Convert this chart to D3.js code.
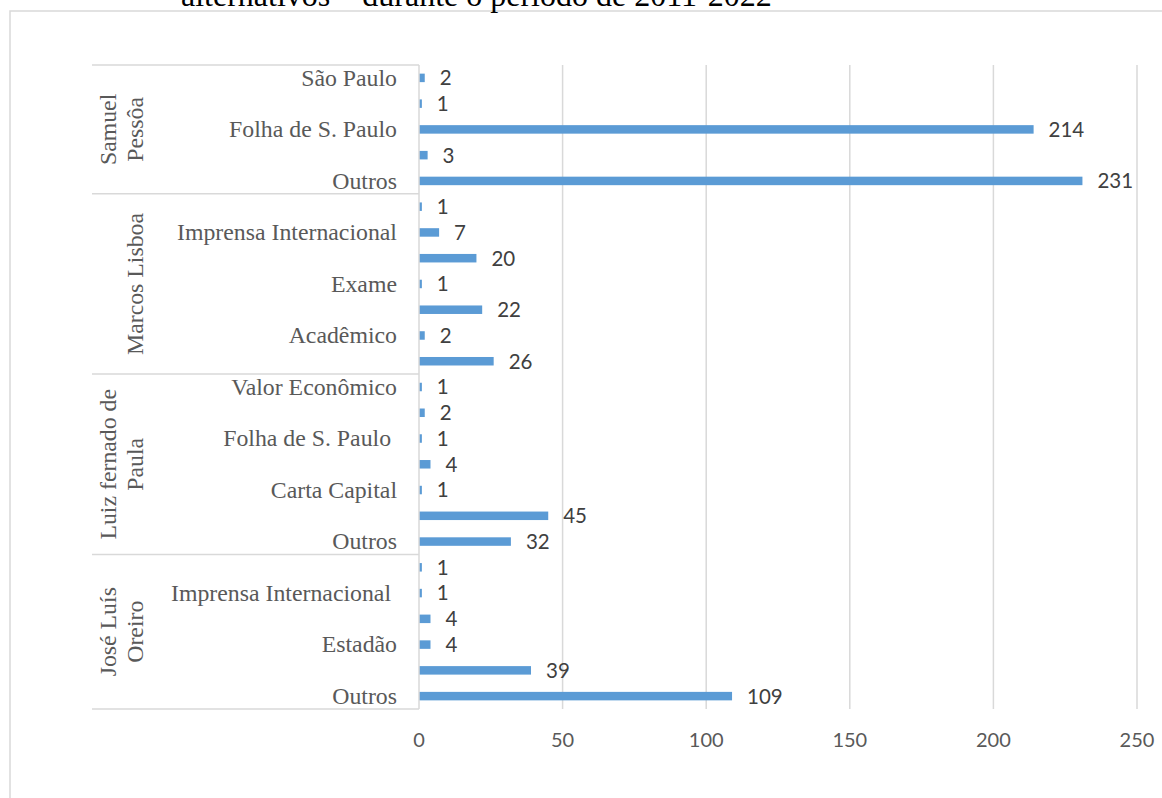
<!DOCTYPE html>
<html>
<head>
<meta charset="utf-8">
<script src="https://cdn.jsdelivr.net/npm/d3@7"></script>
<style>
  html, body { margin: 0; padding: 0; background: #fff; }
  svg { display: block; }
</style>
</head>
<body>
<svg id="chart" width="1162" height="798"></svg>
<script>
// ---- Data ----
const titleText = "alternativos – durante o período de 2011-2022";
const groups = [
  ["Samuel", "Pessôa"],
  ["Marcos Lisboa"],
  ["Luiz fernado de", "Paula"],
  ["José Luís", "Oreiro"]
];
const groupSizes = [5, 7, 7, 6];
// category labels (empty = label hidden in the original)
const categories = [
  "São Paulo", "", "Folha de S. Paulo", "", "Outros",
  "", "Imprensa Internacional", "", "Exame", "", "Acadêmico", "",
  "Valor Econômico", "", "Folha de S. Paulo ", "", "Carta Capital", "", "Outros",
  "", "Imprensa Internacional ", "", "Estadão", "", "Outros"
];
const values = [
  2, 1, 214, 3, 231,
  1, 7, 20, 1, 22, 2, 26,
  1, 2, 1, 4, 1, 45, 32,
  1, 1, 4, 4, 39, 109
];
const xTicks = [0, 50, 100, 150, 200, 250];

// ---- Layout ----
const svg = d3.select("#chart");
const plotLeft = 419, plotRight = 1137, plotTop = 65, plotBottom = 709;
const axisLeft = 92;
const grid = "#d9d9d9";
const barColor = "#5B9BD5";
const serif = "Liberation Serif, Times New Roman, serif";

// outer border
svg.append("rect").attr("x", 10).attr("y", 11).attr("width", 1170).attr("height", 800)
  .attr("fill", "none").attr("stroke", grid).attr("stroke-width", 1.5);

// title (cut off at top, as in the source image)
svg.append("text").attr("x", 181).attr("y", 6)
  .attr("font-family", serif)
  .attr("font-size", 32).attr("fill", "#000").text(titleText);

const x = d3.scaleLinear().domain([0, 250]).range([plotLeft, plotRight]);
const idx = d3.range(values.length);
const y = d3.scaleBand().domain(idx).range([plotTop, plotBottom])
  .paddingInner(0.67).paddingOuter(0.335);

// gridlines
svg.append("g").selectAll("line").data(xTicks.filter(t => t > 0)).join("line")
  .attr("x1", d => x(d)).attr("x2", d => x(d))
  .attr("y1", plotTop).attr("y2", plotBottom)
  .attr("stroke", grid).attr("stroke-width", 1.5);

// x tick labels
svg.append("g").selectAll("text").data(xTicks).join("text")
  .attr("x", d => x(d)).attr("y", 747)
  .attr("text-anchor", "middle")
  .attr("font-family", "Lato, sans-serif").attr("font-size", 20)
  .attr("fill", "#595959").text(d => d);

// bars
svg.append("g").selectAll("rect").data(idx).join("rect")
  .attr("x", x(0)).attr("y", i => y(i))
  .attr("width", i => x(values[i]) - x(0))
  .attr("height", y.bandwidth())
  .attr("fill", barColor);

// value labels
svg.append("g").selectAll("text").data(idx).join("text")
  .attr("x", i => x(values[i]) + 15)
  .attr("y", i => y(i) + y.bandwidth() / 2)
  .attr("dy", "0.36em")
  .attr("font-family", "Lato, sans-serif").attr("font-size", 20.5)
  .attr("fill", "#404040").text(i => values[i]);

// category axis line
svg.append("line").attr("x1", plotLeft).attr("x2", plotLeft)
  .attr("y1", plotTop).attr("y2", plotBottom)
  .attr("stroke", grid).attr("stroke-width", 1.5);

// category labels
svg.append("g").selectAll("text").data(idx).join("text")
  .attr("x", 397)
  .attr("y", i => y(i) + y.bandwidth() / 2)
  .attr("dy", "0.33em")
  .attr("text-anchor", "end")
  .attr("xml:space", "preserve")
  .style("white-space", "pre")
  .attr("font-family", serif)
  .attr("font-size", 23.8).attr("fill", "#595959")
  .text(i => categories[i]);

// group separators and labels
let start = 0;
const bounds = [0];
groupSizes.forEach(n => { start += n; bounds.push(start); });
const step = y.step();
svg.append("g").selectAll("line").data(bounds).join("line")
  .attr("x1", axisLeft).attr("x2", plotLeft)
  .attr("y1", b => plotTop + b * step).attr("y2", b => plotTop + b * step)
  .attr("stroke", grid).attr("stroke-width", 1.5);

groups.forEach((lines, g) => {
  const cy = plotTop + (bounds[g] + bounds[g + 1]) / 2 * step;
  const t = svg.append("text")
    .attr("transform", `translate(0,${cy}) rotate(-90)`)
    .attr("text-anchor", "middle")
    .attr("font-family", serif)
    .attr("font-size", 23.8).attr("fill", "#595959");
  const xs = lines.length === 2 ? [116, 143] : [143];
  lines.forEach((ln, k) => {
    t.append("tspan").attr("x", 0).attr("y", xs[k]).text(ln);
  });
});
</script>
</body>
</html>
